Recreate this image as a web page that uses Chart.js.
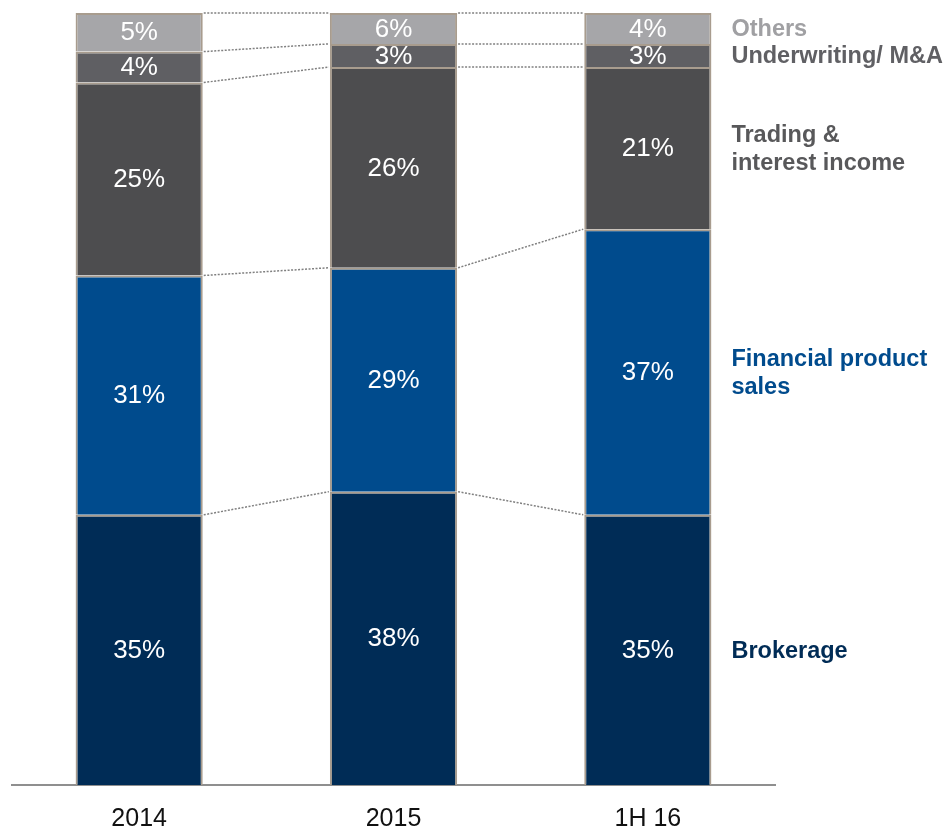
<!DOCTYPE html>
<html>
<head>
<meta charset="utf-8">
<script src="https://cdn.jsdelivr.net/npm/chart.js@4/dist/chart.umd.min.js"></script>
<style>
  html, body { margin: 0; padding: 0; background: #fff; }
  #wrap { width: 947px; height: 828px; }
</style>
</head>
<body>
<div id="wrap"><canvas id="mix"></canvas></div>
<script>
// Revenue mix by business line, % of total
const periods = ['2014', '2015', '1H 16'];
const brokerage = [35, 38, 35];
const productSales = [31, 29, 37];
const trading = [25, 26, 21];
const underwriting = [4, 3, 3];
const others = [5, 6, 4];

const FONT = '"Liberation Sans", Arial, sans-serif';
const EDGE = '#a89c8e';

const series = [
  { label: 'Brokerage', data: brokerage, fill: '#002c56', text: '#002c56', side: ['Brokerage'] },
  { label: 'Financial product sales', data: productSales, fill: '#004b8d', text: '#004b8d', side: ['Financial product', 'sales'] },
  { label: 'Trading & interest income', data: trading, fill: '#4d4d4f', text: '#58585a', side: ['Trading &', 'interest income'] },
  { label: 'Underwriting/ M&A', data: underwriting, fill: '#5f5f63', text: '#606064', side: ['Underwriting/ M&A'] },
  { label: 'Others', data: others, fill: '#a6a6a9', text: '#a0a0a3', side: ['Others'] }
];

// running totals per period, bottom edge of each segment
function cumulative(upTo) {
  return periods.map((_, i) => series.slice(0, upTo).reduce((s, d) => s + d.data[i], 0));
}

const mixPlugin = {
  id: 'mixDecor',
  afterDatasetsDraw(chart) {
    const { ctx, chartArea, scales: { y } } = chart;
    const yPx = v => y.getPixelForValue(Math.min(v, 100));
    const bars = chart.getDatasetMeta(0).data;

    ctx.save();
    // segments cut by the 100% ceiling still get their top edge
    series.forEach((s, k) => {
      chart.getDatasetMeta(k).data.forEach(el => {
        if (el.y < chartArea.top) {
          ctx.fillStyle = EDGE;
          ctx.fillRect(el.x - el.width / 2, chartArea.top, el.width, 2);
        }
      });
    });

    // dotted connectors between matching boundaries of neighbouring bars
    ctx.strokeStyle = '#808080';
    ctx.lineWidth = 1.5;
    ctx.setLineDash([2, 1.5]);
    for (let k = 1; k <= series.length; k++) {
      const tops = cumulative(k);
      for (let i = 0; i < periods.length - 1; i++) {
        const a = bars[i], b = bars[i + 1];
        ctx.beginPath();
        ctx.moveTo(a.x + a.width / 2 + 1, yPx(tops[i]));
        ctx.lineTo(b.x - b.width / 2 - 1, yPx(tops[i + 1]));
        ctx.stroke();
      }
    }
    ctx.setLineDash([]);

    // white % labels inside each segment
    ctx.fillStyle = '#ffffff';
    ctx.font = '26px ' + FONT;
    ctx.textAlign = 'center';
    ctx.textBaseline = 'middle';
    series.forEach((s, k) => {
      const lo = cumulative(k);
      s.data.forEach((v, i) => {
        const mid = (yPx(lo[i]) + yPx(lo[i] + v)) / 2;
        ctx.fillText(v + '%', bars[i].x, mid + 1);
      });
    });

    // segment names to the right of the last bar
    const last = periods.length - 1;
    const xText = bars[last].x + bars[last].width / 2 + 20;
    ctx.font = 'bold 23.5px ' + FONT;
    ctx.textAlign = 'left';
    series.forEach((s, k) => {
      const lo = cumulative(k)[last];
      const mid = (yPx(lo) + yPx(lo + s.data[last])) / 2;
      const lh = 28.5;
      const start = mid - (s.side.length - 1) * lh / 2;
      ctx.fillStyle = s.text;
      s.side.forEach((line, j) => ctx.fillText(line, xText, start + j * lh + 1.5));
    });
    ctx.restore();
  }
};

new Chart(document.getElementById('mix'), {
  type: 'bar',
  data: {
    labels: periods,
    datasets: series.map(s => ({
      label: s.label,
      data: s.data,
      backgroundColor: s.fill,
      borderColor: EDGE,
      borderWidth: 2,
      borderSkipped: 'start',
      barPercentage: 1,
      categoryPercentage: 0.5,
      clip: 0
    }))
  },
  options: {
    responsive: true,
    maintainAspectRatio: false,
    animation: false,
    layout: { padding: { top: 13, left: 12, right: 172, bottom: 0 } },
    plugins: { legend: { display: false }, tooltip: { enabled: false } },
    scales: {
      x: {
        stacked: true,
        grid: { display: false, drawTicks: false },
        border: { display: true, color: '#8f8f8f', width: 2 },
        ticks: { color: '#111111', font: { family: FONT, size: 25 }, padding: 19 },
        afterFit(scale) { scale.height = 43; }
      },
      y: {
        stacked: true,
        display: false,
        min: 0,
        max: 100
      }
    }
  },
  plugins: [mixPlugin]
});
</script>
</body>
</html>
